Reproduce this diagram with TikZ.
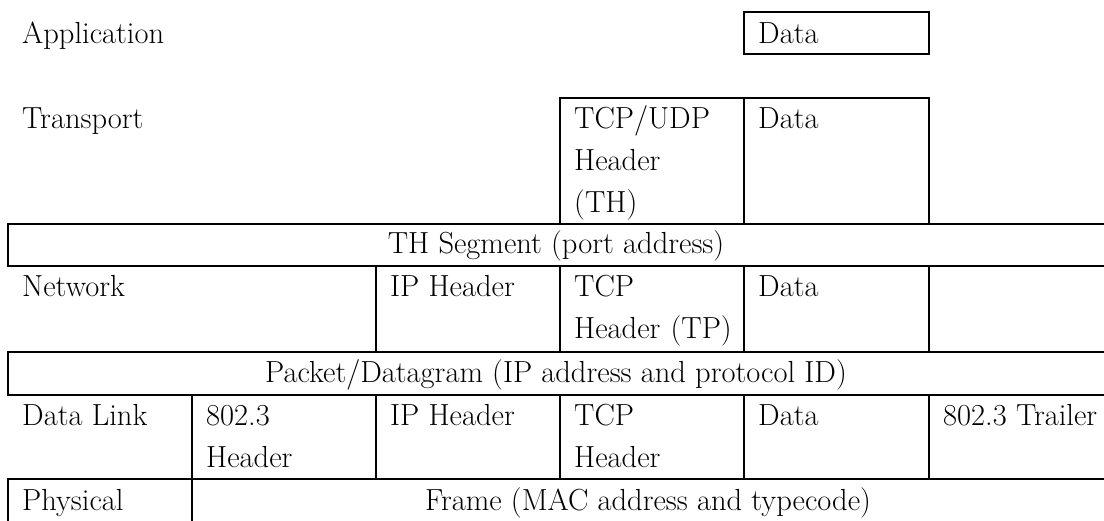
\documentclass[tikz,border=0pt]{standalone}
\usepackage{fontspec}

\begin{document}
\begin{tikzpicture}[x=1pt, y=-1pt,
        every node/.style={font=\fontsize{30.5}{42}\selectfont, inner sep=0pt},
        txt/.style={anchor=base west, align=left},
        txtm/.style={txt, text width=165pt},
        mid/.style={anchor=base},
        grid/.style={line width=2pt, line cap=rect}]

        \useasboundingbox (0,0) rectangle (1104,521);

        % Caixas de cima
        \draw[grid] (744,12) rectangle (929,54);
        \draw[grid] (560,224) |- (929,98) -- (929,224);
        \draw[grid] (744,98) -- (744,224);

        % Linhas da tabela
        \foreach \y in {224,266,352,395,479}
            \draw[grid] (8,\y) -- (1104,\y);
        \draw[grid] (8,224) -- (8,266);
        \draw[grid] (8,352) -- (8,395);
        \draw[grid] (8,479) -- (8,521);
        \foreach \x in {376,560,744,929}
            \draw[grid] (\x,266) -- (\x,352);
        \foreach \x in {192,376,560,744,929}
            \draw[grid] (\x,395) -- (\x,479);
        \draw[grid] (192,479) -- (192,521);

        % Camadas
        \node[txt] (app) at (22,44) {Application};
        \node[txt] (trans) at (22,129) {Transport};
        \node[txt] (net) at (22,297) {Network};
        \node[txt] (dl) at (22,426) {Data Link};
        \node[txt] (phy) at (22,510) {Physical};

        % Conteudo das celulas
        \node[txt] (appdata) at (758,44) {Data};
        \node[txtm] (thhdr) at (574,129) {TCP/UDP\\Header\\(TH)};
        \node[txt] (thdata) at (758,129) {Data};
        \node[mid] (seg) at (556,254) {TH Segment (port address)};
        \node[txt] (netip) at (390,297) {IP Header};
        \node[txtm] (nettcp) at (574,297) {TCP\\Header (TP)};
        \node[txt] (netdata) at (758,297) {Data};
        \node[mid] (pkt) at (556,383) {Packet/Datagram (IP address and protocol ID)};
        \node[txtm] (dlhdr) at (206,426) {802.3\\Header};
        \node[txt] (dlip) at (390,426) {IP Header};
        \node[txtm] (dltcp) at (574,426) {TCP\\Header};
        \node[txt] (dldata) at (758,426) {Data};
        \node[txt] (dltrl) at (943,426) {802.3 Trailer};
        \node[mid] (frame) at (648,510) {Frame (MAC address and typecode)};

\end{tikzpicture}
\end{document}
